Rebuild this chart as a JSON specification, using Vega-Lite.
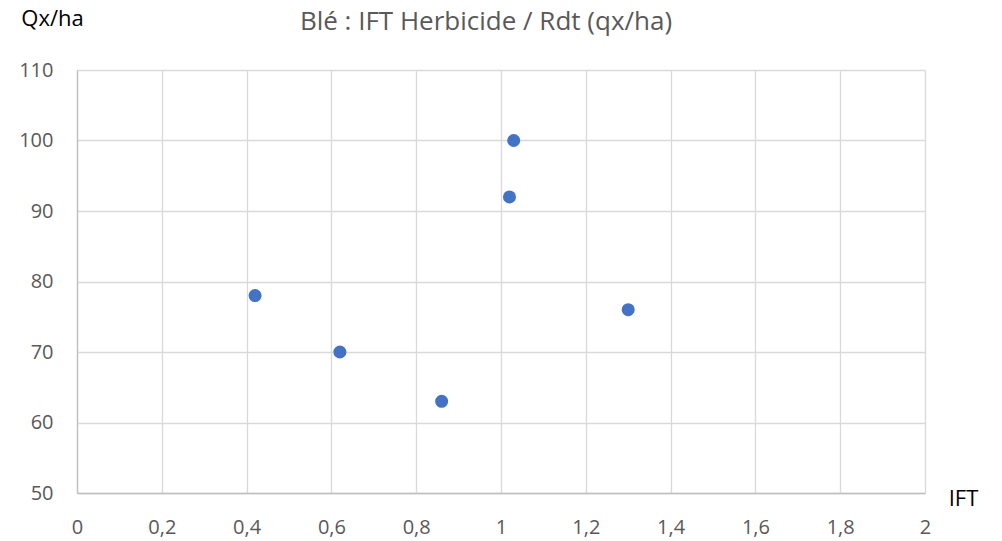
{
  "$schema": "https://vega.github.io/schema/vega-lite/v6.json",
  "autosize": "none",
  "width": 848,
  "height": 423,
  "padding": {"left": 77, "top": 70, "right": 77, "bottom": 48},
  "background": "white",
  "config": {
    "font": "Open Sans",
    "view": {"stroke": null}
  },
  "title": {
    "text": "Blé : IFT Herbicide / Rdt (qx/ha)",
    "anchor": "middle",
    "dx": -15,
    "offset": -28,
    "fontSize": 26,
    "fontWeight": "normal",
    "color": "#595959",
    "font": "Open Sans"
  },
  "data": {
    "values": [
      {"IFT": 0.42, "Rdt": 78},
      {"IFT": 0.62, "Rdt": 70},
      {"IFT": 0.86, "Rdt": 63},
      {"IFT": 1.02, "Rdt": 92},
      {"IFT": 1.03, "Rdt": 100},
      {"IFT": 1.30, "Rdt": 76}
    ]
  },
  "mark": {"type": "point", "filled": true, "opacity": 1, "size": 170, "color": "#4472C4", "shape": "circle"},
  "encoding": {
    "x": {
      "field": "IFT",
      "type": "quantitative",
      "scale": {"domain": [0, 2], "nice": false, "zero": false},
      "axis": {
        "values": [0, 0.2, 0.4, 0.6, 0.8, 1, 1.2, 1.4, 1.6, 1.8, 2],
        "labelExpr": "replace(format(datum.value, '.1~f'), '.', ',')",
        "title": "IFT",
        "titleAngle": 0,
        "titleX": 886,
        "titleY": 5,
        "titleAlign": "center",
        "titleBaseline": "middle",
        "titleFontSize": 22,
        "titleFontWeight": "normal",
        "titleColor": "#000000",
        "labelFontSize": 20,
        "labelColor": "#595959",
        "labelPadding": 24,
        "labelFlush": false,
        "labelOverlap": false,
        "ticks": false,
        "domain": true,
        "domainColor": "#bfbfbf",
        "domainWidth": 1.3,
        "grid": true,
        "gridColor": "#d9d9d9",
        "gridWidth": 1.3
      }
    },
    "y": {
      "field": "Rdt",
      "type": "quantitative",
      "scale": {"domain": [50, 110], "nice": false, "zero": false},
      "axis": {
        "values": [50, 60, 70, 80, 90, 100, 110],
        "title": "Qx/ha",
        "titleAngle": 0,
        "titleX": -25,
        "titleY": -52,
        "titleAlign": "center",
        "titleBaseline": "middle",
        "titleFontSize": 22,
        "titleFontWeight": "normal",
        "titleColor": "#000000",
        "labelFontSize": 20,
        "labelColor": "#595959",
        "labelPadding": 24,
        "labelOverlap": false,
        "labelFlush": false,
        "ticks": false,
        "domain": true,
        "domainColor": "#bfbfbf",
        "domainWidth": 1.3,
        "grid": true,
        "gridColor": "#d9d9d9",
        "gridWidth": 1.3
      }
    }
  }
}
